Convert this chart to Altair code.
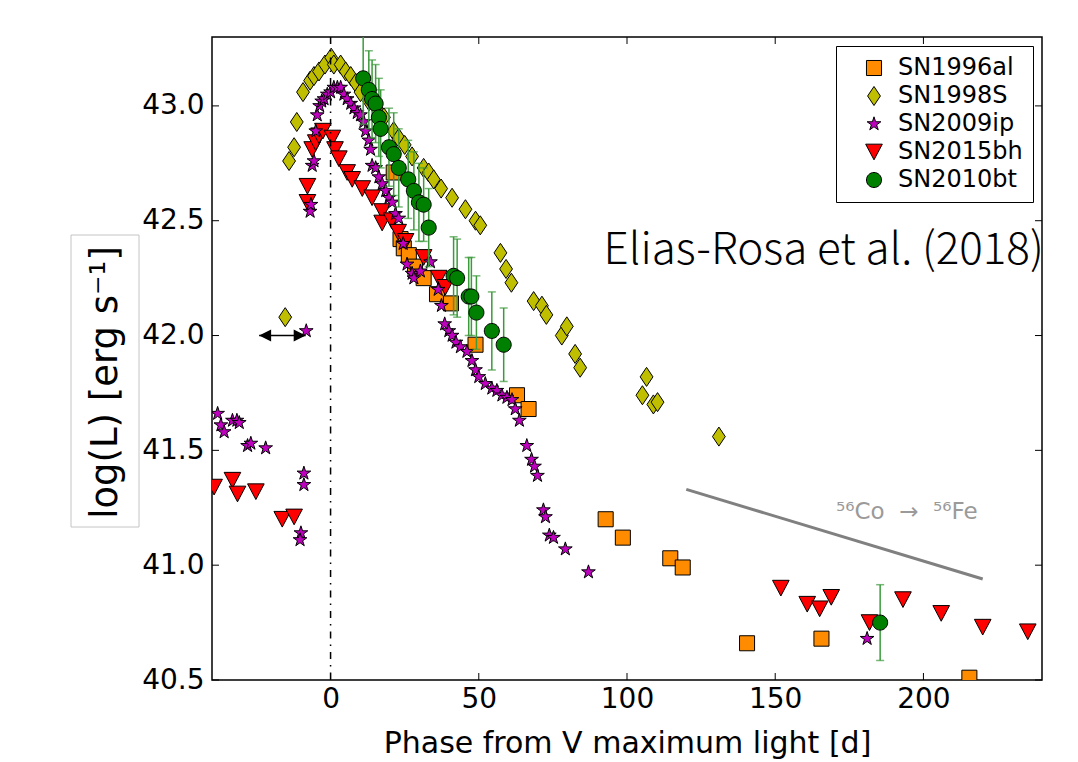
import altair as alt
import pandas as pd

# ---------------- data ----------------
sn1996al_x = [21.3, 23.6, 24.7, 26.4, 28.5, 31.4, 35.9, 40.6, 48.9, 62.9, 66.8,
              92.8, 98.6, 114.6, 118.8, 140.5, 165.6, 215.5]
sn1996al_y = [42.71, 42.42, 42.38, 42.35, 42.30, 42.25, 42.18, 42.14, 41.96, 41.74, 41.68,
              41.20, 41.12, 41.03, 40.99, 40.66, 40.68, 40.51]

sn1998s_x = [-15.3, -14.0, -12.3, -11.4, -9.3, -6.9, -5.6, -3.9, -1.9, 0.2, 1.1, 3.4, 5.1,
             6.8, 8.5, 10.1, 13.0, 15.5, 18.0, 21.3, 23.0, 25.0, 27.5, 31.4, 33.1, 34.8,
             37.3, 41.0, 45.5, 48.9, 50.5, 57.3, 59.2, 61.0, 68.5, 71.3, 72.8, 78.0, 79.7,
             82.5, 84.2, 105.2, 106.6, 108.9, 110.3, 131.0]
sn1998s_y = [42.08, 42.76, 42.82, 42.93, 43.06, 43.11, 43.13, 43.15, 43.18, 43.21, 43.18,
             43.18, 43.15, 43.13, 43.10, 43.06, 43.02, 42.99, 42.95, 42.89, 42.86, 42.83,
             42.78, 42.73, 42.71, 42.68, 42.64, 42.60, 42.55, 42.50, 42.48, 42.36, 42.29,
             42.23, 42.15, 42.13, 42.09, 42.00, 42.04, 41.92, 41.86, 41.74, 41.82, 41.70,
             41.71, 41.56]

sn2009ip_x = [-38.1, -37.0, -35.9, -33.1, -31.6, -30.8, -28.0, -26.9, -21.9, -9.0, -9.0,
              -10.0, -10.3, -8.2, -6.9, -6.6, -6.2, -5.6, -5.0, -4.5, -3.7, -3.0, -2.2,
              -1.1, 0.0, 1.1, 2.3, 3.4, 4.5, 5.6, 6.8, 7.9, 9.0, 10.1, 11.2, 11.8, 12.9,
              13.5, 14.0, 15.2, 16.3, 17.4, 18.6, 19.7, 20.8, 21.9, 23.0, 24.5, 25.8, 27.5,
              28.1, 30.3, 33.7, 36.3, 37.4, 38.5, 39.9, 41.0, 42.3, 43.8, 46.0, 47.7, 48.9,
              50.0, 52.2, 54.4, 56.1, 57.8, 59.5, 61.2, 62.3, 63.7, 66.2, 67.8, 68.8, 69.8,
              71.8, 72.5, 73.8, 75.2, 79.2, 87.0, 181.0]
sn2009ip_y = [41.66, 41.61, 41.58, 41.63, 41.63, 41.62, 41.52, 41.53, 41.51, 41.40, 41.35,
              41.14, 41.11, 42.02, 42.54, 42.57, 42.74, 42.76, 42.89, 42.96, 43.00, 43.02,
              43.03, 43.05, 43.06, 43.08, 43.08, 43.08, 43.05, 43.03, 43.01, 42.99, 42.97,
              42.96, 42.93, 42.89, 42.85, 42.81, 42.74, 42.73, 42.69, 42.66, 42.63, 42.60,
              42.58, 42.53, 42.51, 42.40, 42.31, 42.27, 42.25, 42.28, 42.32, 42.20, 42.13,
              42.05, 42.02, 42.00, 41.97, 41.95, 41.93, 41.89, 41.85, 41.82, 41.79, 41.77,
              41.76, 41.74, 41.73, 41.72, 41.68, 41.63, 41.52, 41.46, 41.43, 41.39, 41.24,
              41.21, 41.13, 41.12, 41.07, 40.97, 40.68]

sn2015bh_x = [-39.3, -33.1, -31.4, -25.2, -16.3, -12.3, -7.8, -7.8, -6.2, -5.0, -3.9, -2.6,
              0.6, 1.5, 2.8, 5.6, 7.3, 10.7, 14.0, 17.4, 17.4, 20.6, 22.8, 25.3, 31.4, 36.5,
              38.7, 151.9, 160.8, 165.0, 168.9, 181.8, 193.1, 206.0, 220.0, 235.2]
sn2015bh_y = [41.34, 41.37, 41.31, 41.32, 41.20, 41.21, 42.65, 42.58, 42.81, 42.84, 42.87,
              42.89, 42.86, 42.81, 42.77, 42.71, 42.68, 42.64, 42.60, 42.54, 42.49, 42.50,
              42.45, 42.41, 42.34, 42.25, 42.21, 40.90, 40.83, 40.81, 40.86, 40.75, 40.85,
              40.79, 40.73, 40.71]

sn2010bt_x = [11.0, 12.9, 14.0, 15.2, 16.3, 16.9, 19.7, 21.3, 23.0, 26.2, 28.1, 29.8, 31.4,
              33.1, 41.5, 42.7, 46.6, 47.5, 49.2, 54.4, 58.4, 185.4]
sn2010bt_y = [43.12, 43.07, 43.03, 43.01, 42.95, 42.90, 42.82, 42.79, 42.73, 42.68, 42.63,
              42.58, 42.57, 42.47, 42.26, 42.25, 42.17, 42.17, 42.10, 42.02, 41.96, 40.75]
sn2010bt_err = [0.20, 0.17, 0.17, 0.17, 0.17, 0.17, 0.17, 0.18, 0.17, 0.17, 0.17, 0.17, 0.16,
                0.17, 0.17, 0.17, 0.17, 0.17, 0.16, 0.17, 0.16, 0.165]

names = ["SN1996al", "SN1998S", "SN2009ip", "SN2015bh", "SN2010bt"]
colors = ["#ff8c00", "#bfbf00", "#bf00bf", "#ff0000", "#008000"]
edges = ["black", "black", "black", "black", "black"]

x_ticks = [0, 50, 100, 150, 200]
y_ticks = [40.5, 41.0, 41.5, 42.0, 42.5, 43.0]

co_line_x = [120, 220]
co_line_y = [41.33, 40.94]
co_label = ["\u2075\u2076Co \u00a0\u2192\u00a0 \u2075\u2076Fe"]
co_label_x = [170.5]
co_label_y = [41.20]

ref_label = ["Elias-Rosa et al. (2018)"]
ref_label_x = [92.1]
ref_label_y = [42.31]

arrow_x = [-24.1, -8.4]
arrow_y = [42.0]

# ---------------- marker shapes (matplotlib-like) ----------------
square_path = "M-0.94,-0.94L0.94,-0.94L0.94,0.94L-0.94,0.94Z"
diamond_path = "M0,-1.19L0.8,0L0,1.19L-0.8,0Z"
star_path = ("M0,-0.9L0.202,-0.278L0.856,-0.278L0.327,0.106L0.529,0.728L0,0.344"
             "L-0.529,0.728L-0.327,0.106L-0.856,-0.278L-0.202,-0.278Z")
tri_path = "M-1.04,-0.98L1.04,-0.98L0,0.98Z"
circle_path = "M0.94,0A0.94,0.94,0,1,1,-0.94,0A0.94,0.94,0,1,1,0.94,0Z"
shapes = [square_path, diamond_path, star_path, tri_path, circle_path]

# ---------------- tables ----------------
series = {
    "SN1996al": (sn1996al_x, sn1996al_y),
    "SN1998S": (sn1998s_x, sn1998s_y),
    "SN2009ip": (sn2009ip_x, sn2009ip_y),
    "SN2015bh": (sn2015bh_x, sn2015bh_y),
    "SN2010bt": (sn2010bt_x, sn2010bt_y),
}
draw_order = ["SN1998S", "SN1996al", "SN2015bh", "SN2009ip", "SN2010bt"]
rows = []
for nm in draw_order:
    xs_, ys_ = series[nm]
    for a, b in zip(xs_, ys_):
        rows.append({"name": nm, "x": a, "y": b})
df = pd.DataFrame(rows)

err_df = pd.DataFrame({
    "x": sn2010bt_x,
    "lo": [v - e for v, e in zip(sn2010bt_y, sn2010bt_err)],
    "hi": [v + e for v, e in zip(sn2010bt_y, sn2010bt_err)],
})

W, H = 830, 643
xs = alt.Scale(domain=[-40, 240], nice=False, zero=False)
ys = alt.Scale(domain=[40.5, 43.3], nice=False, zero=False)

x_axis = alt.Axis(values=x_ticks, format="d", title="Phase from V maximum light [d]",
                  labelFontSize=28, labelFont="DejaVu Sans", labelColor="black",
                  labelPadding=5, ticks=False, tickSize=0, domain=False, grid=False,
                  titleFontSize=30, titleFont="DejaVu Sans", titleFontWeight="normal",
                  titleColor="black", titleBaseline="alphabetic", titleY=72)
y_axis = alt.Axis(values=y_ticks, format=".1f", title="log(L) [erg s\u207b\u00b9]",
                  labelFontSize=28, labelFont="DejaVu Sans", labelColor="black",
                  labelPadding=8, ticks=False, tickSize=0, domain=False, grid=False,
                  titleFontSize=37, titleFont="DejaVu Sans", titleFontWeight="normal",
                  titleColor="black", titleAngle=270, titleAlign="center",
                  titleBaseline="middle", titleX=-107, titleY=345)

legend = alt.Legend(title=None, orient="top-right", offset=9, padding=10,
                    strokeColor="black", fillColor="white", cornerRadius=0,
                    labelFontSize=24, labelFont="DejaVu Sans", labelColor="black",
                    symbolSize=256, symbolOffset=16, labelOffset=12, rowPadding=4,
                    symbolStrokeColor="black", symbolStrokeWidth=1, symbolOpacity=1)

color_enc = alt.Color("name:N", scale=alt.Scale(domain=names, range=colors), legend=legend)
shape_enc = alt.Shape("name:N", scale=alt.Scale(domain=names, range=shapes), legend=legend)
stroke_enc = alt.Stroke("name:N", scale=alt.Scale(domain=names, range=edges), legend=legend)

base = alt.Chart(df)

pts_other = base.transform_filter(alt.datum.name != "SN2010bt").mark_point(
    filled=True, strokeWidth=1, opacity=1, size=256, clip=True
).encode(x=alt.X("x:Q", scale=xs, axis=x_axis), y=alt.Y("y:Q", scale=ys, axis=y_axis),
         fill=color_enc, shape=shape_enc, stroke=stroke_enc)

pts_green = base.transform_filter(alt.datum.name == "SN2010bt").mark_point(
    filled=True, strokeWidth=1, opacity=1, size=256, clip=True
).encode(x=alt.X("x:Q", scale=xs), y=alt.Y("y:Q", scale=ys),
         fill=color_enc, shape=shape_enc, stroke=stroke_enc)

err_color = "#3c9a3c"
err_rule = alt.Chart(err_df).mark_rule(color=err_color, strokeWidth=1.5, clip=True).encode(
    x=alt.X("x:Q", scale=xs), y=alt.Y("lo:Q", scale=ys), y2="hi:Q")
cap_lo = alt.Chart(err_df).mark_tick(color=err_color, orient="horizontal", size=8,
                                     thickness=1.5, clip=True).encode(
    x=alt.X("x:Q", scale=xs), y=alt.Y("lo:Q", scale=ys))
cap_hi = alt.Chart(err_df).mark_tick(color=err_color, orient="horizontal", size=8,
                                     thickness=1.5, clip=True).encode(
    x=alt.X("x:Q", scale=xs), y=alt.Y("hi:Q", scale=ys))

zero_df = pd.DataFrame({"x": [0]})
zero_line = alt.Chart(zero_df).mark_rule(color="black", strokeWidth=1.5,
                                         strokeDash=[7, 6, 1.5, 6]).encode(
    x=alt.X("x:Q", scale=xs))

co_df = pd.DataFrame({"x": co_line_x, "y": co_line_y})
co_line = alt.Chart(co_df).mark_line(color="#808080", strokeWidth=3).encode(
    x=alt.X("x:Q", scale=xs), y=alt.Y("y:Q", scale=ys))
co_txt = alt.Chart(pd.DataFrame({"x": co_label_x, "y": co_label_y, "t": co_label})).mark_text(
    align="left", baseline="alphabetic", fontSize=23, font="DejaVu Sans", color="#9a9a9a"
).encode(x=alt.X("x:Q", scale=xs), y=alt.Y("y:Q", scale=ys), text="t:N")

ref_txt = alt.Chart(pd.DataFrame({"x": ref_label_x, "y": ref_label_y, "t": ref_label})).mark_text(
    align="left", baseline="alphabetic", fontSize=44, fontWeight=300,
    font="Noto Sans CJK JP", color="black"
).encode(x=alt.X("x:Q", scale=xs), y=alt.Y("y:Q", scale=ys), text="t:N")

arr_df = pd.DataFrame({"x1": [arrow_x[0]], "x2": [arrow_x[1]], "y": arrow_y})
arr_line = alt.Chart(arr_df).mark_rule(color="black", strokeWidth=1.5).encode(
    x=alt.X("x1:Q", scale=xs), x2="x2:Q", y=alt.Y("y:Q", scale=ys))
head_l = alt.Chart(arr_df).mark_point(shape="M0,0L2,-1L2,1Z", size=144, filled=True,
                                      color="black", opacity=1).encode(
    x=alt.X("x1:Q", scale=xs), y=alt.Y("y:Q", scale=ys))
head_r = alt.Chart(arr_df).mark_point(shape="M0,0L-2,-1L-2,1Z", size=144, filled=True,
                                      color="black", opacity=1).encode(
    x=alt.X("x2:Q", scale=xs), y=alt.Y("y:Q", scale=ys))

xt_df = pd.DataFrame({"t": x_ticks})
yt_df = pd.DataFrame({"t": y_ticks})
tick_bot = alt.Chart(xt_df).mark_rule(color="black", strokeWidth=1).encode(
    x=alt.X("t:Q", scale=xs), y=alt.value(H), y2=alt.value(H - 7))
tick_top = alt.Chart(xt_df).mark_rule(color="black", strokeWidth=1).encode(
    x=alt.X("t:Q", scale=xs), y=alt.value(0), y2=alt.value(7))
tick_left = alt.Chart(yt_df).mark_rule(color="black", strokeWidth=1).encode(
    y=alt.Y("t:Q", scale=ys), x=alt.value(0), x2=alt.value(7))
tick_right = alt.Chart(yt_df).mark_rule(color="black", strokeWidth=1).encode(
    y=alt.Y("t:Q", scale=ys), x=alt.value(W), x2=alt.value(W - 7))

# thin grey frame around the y-axis title (as in the pasted label of the reference)
title_box = alt.Chart(pd.DataFrame({"k": [0]})).mark_rect(
    fill="white", fillOpacity=0, stroke="#c4c4c4", strokeWidth=1, clip=False
).encode(x=alt.value(-141), x2=alt.value(-73), y=alt.value(198), y2=alt.value(490))

chart = alt.layer(
    pts_other, zero_line, tick_bot, tick_top, tick_left, tick_right,
    co_line, co_txt, ref_txt, arr_line, head_l, head_r,
    err_rule, cap_lo, cap_hi, pts_green, title_box,
).properties(
    width=W, height=H,
    padding={"left": 212, "top": 37, "right": 36, "bottom": 82},
    autosize=alt.AutoSizeParams(type="none"),
    background="white",
).configure_view(stroke="black", strokeWidth=1.5)

chart.save("out.html", embed_options={"renderer": "svg", "actions": False})
